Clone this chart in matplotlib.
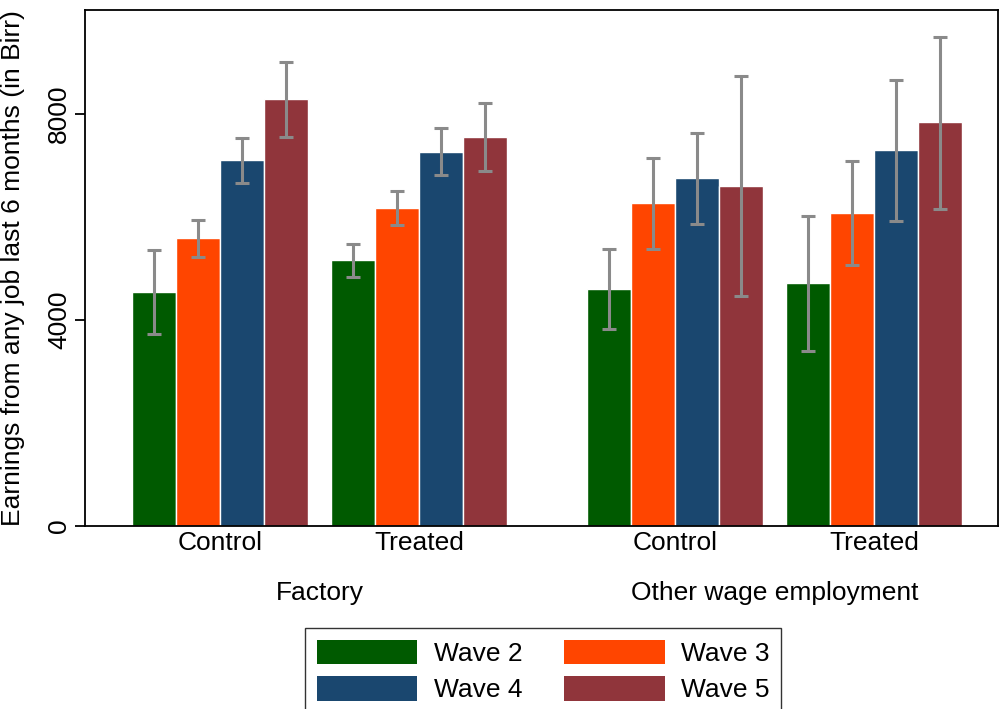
import numpy as np
import matplotlib
matplotlib.use("Agg")
import matplotlib.pyplot as plt
from matplotlib.patches import Patch
from matplotlib.transforms import blended_transform_factory

plt.rcParams['font.family'] = ['Liberation Sans', 'DejaVu Sans']

# Earnings (Birr), groups: Factory control/treated, Other wage control/treated
groups = ["Control", "Treated", "Control", "Treated"]
panels = ["Factory", "Other wage employment"]
waves = ["Wave 2", "Wave 3", "Wave 4", "Wave 5"]

wave2_mean = [4544, 5165, 4602, 4718]
wave2_lo = [3734, 4829, 3819, 3404]
wave2_hi = [5359, 5476, 5372, 6013]

wave3_mean = [5592, 6175, 6272, 6078]
wave3_lo = [5217, 5851, 5385, 5074]
wave3_hi = [5942, 6499, 7146, 7087]

wave4_mean = [7107, 7262, 6757, 7301]
wave4_lo = [6667, 6809, 5870, 5916]
wave4_hi = [7528, 7722, 7631, 8654]

wave5_mean = [8291, 7553, 6602, 7845]
wave5_lo = [7560, 6893, 4466, 6162]
wave5_hi = [9004, 8214, 8744, 9502]

means = [wave2_mean, wave3_mean, wave4_mean, wave5_mean]
los = [wave2_lo, wave3_lo, wave4_lo, wave5_lo]
his = [wave2_hi, wave3_hi, wave4_hi, wave5_hi]
colors = ["#005a00", "#ff4500", "#1a476f", "#90353b"]

# layout: bar width = 1 unit
within_step = 4.52
panel_step = 10.34
centers = np.array([0, within_step, panel_step, panel_step + within_step])
offsets = [-1.5, -0.5, 0.5, 1.5]

fig = plt.figure(figsize=(9.99, 7.09), dpi=100)
ax = fig.add_axes([85 / 999, 183 / 709, 913 / 999, 516 / 709])

for k in range(4):
    x = centers + offsets[k]
    m = np.array(means[k])
    ax.bar(x, m, width=1.0, color=colors[k], edgecolor="white", linewidth=1, zorder=2)
    ax.errorbar(x, m, yerr=[m - np.array(los[k]), np.array(his[k]) - m],
                fmt="none", ecolor="#8a8a8a", elinewidth=2.2, capsize=5,
                capthick=2.2, zorder=3)

ax.set_xlim(-3.07, centers[-1] + 2.82)
ax.set_ylim(0, 10020)

for s in ax.spines.values():
    s.set_linewidth(1.3)
    s.set_color("black")

fs = 19
ax.set_yticks([0, 4000, 8000])
ax.set_yticklabels(["0", "4000", "8000"], fontsize=fs, rotation=90, va="center")
ax.tick_params(axis="y", length=7, width=1.3, pad=3)
ax.set_xticks(centers)
ax.set_xticklabels(groups, fontsize=fs)
ax.tick_params(axis="x", length=0, pad=3.5)

ax.set_ylabel("Earnings from any job last 6 months (in Birr)", fontsize=fs)
ax.yaxis.set_label_coords(-0.066, 0.5)

trans = blended_transform_factory(ax.transData, ax.transAxes)
ax.text(centers[:2].mean(), -0.13, panels[0], transform=trans,
        ha="center", va="center", fontsize=fs)
ax.text(centers[2:].mean(), -0.13, panels[1], transform=trans,
        ha="center", va="center", fontsize=fs)

handles = [Patch(facecolor=c, edgecolor="none") for c in colors]
order = [0, 2, 1, 3]
leg = fig.legend([handles[i] for i in order], [waves[i] for i in order],
                 ncol=2, loc="upper left", bbox_to_anchor=(305 / 999, 1 - 628 / 709),
                 fontsize=fs, frameon=True, fancybox=False, edgecolor="black",
                 handlelength=3.8, handleheight=1.05, handletextpad=0.62,
                 columnspacing=1.6, labelspacing=0.38, borderpad=0.45,
                 borderaxespad=0)
leg.get_frame().set_linewidth(1.0)

fig.savefig("out.png", dpi=100)
